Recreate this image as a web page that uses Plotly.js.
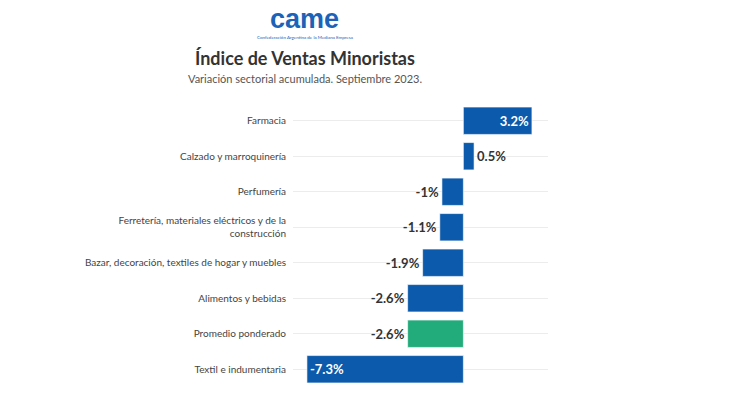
<!DOCTYPE html>
<html><head><meta charset="utf-8">
<script src="https://cdn.plot.ly/plotly-3.0.1.min.js"></script>
<style>html,body{margin:0;padding:0;background:#fff;}</style>
</head><body>
<div id="chart" style="width:730px;height:395px;"></div>
<script>
const categories = [
  "Farmacia",
  "Calzado y marroquinería",
  "Perfumería",
  "Ferretería, materiales eléctricos y de la<br>construcción",
  "Bazar, decoración, textiles de hogar y muebles",
  "Alimentos y bebidas",
  "Promedio ponderado",
  "Textil e indumentaria"
];
const values = [3.2, 0.5, -1, -1.1, -1.9, -2.6, -2.6, -7.3];
const valueLabels = ["3.2%", "0.5%", "-1%", "-1.1%", "-1.9%", "-2.6%", "-2.6%", "-7.3%"];
const highlight = "Promedio ponderado";

const colors = categories.map(c => c === highlight ? "#22ab7b" : "#0b5aab");
const positions = values.map(v => Math.abs(v) > 3 ? "inside" : "outside");

const trace = {
  type: "bar",
  orientation: "h",
  y: categories,
  x: values,
  text: valueLabels,
  textposition: positions,
  insidetextanchor: "end",
  outsidetextfont: {family: "Lato, 'Open Sans', sans-serif", size: 13, color: "#333333", weight: 700},
  insidetextfont: {family: "Lato, 'Open Sans', sans-serif", size: 13, color: "#ffffff", weight: 700},
  marker: {color: colors, line: {color: "rgba(255,255,255,0.6)", width: 1}},
  cliponaxis: false,
  hoverinfo: "none"
};

const layout = {
  width: 730, height: 395,
  margin: {l: 293, r: 182, t: 103, b: 8},
  paper_bgcolor: "#ffffff",
  plot_bgcolor: "#ffffff",
  bargap: 0.23,
  showlegend: false,
  font: {family: "Lato, 'Open Sans', sans-serif", color: "#444"},
  xaxis: {range: [-7.95, 3.95], showgrid: false, zeroline: false, showticklabels: false, fixedrange: true},
  yaxis: {autorange: "reversed", showgrid: true, gridcolor: "#ececec", gridwidth: 1,
          ticks: "", ticklabelstandoff: 6, tickfont: {size: 10, color: "#444"}, automargin: false},
  annotations: [
    {text: "<b>came</b>", xref: "paper", yref: "paper", x: 0.047, y: 1.295, xanchor: "center", yanchor: "middle",
     showarrow: false, font: {family: "Arial, Liberation Sans, sans-serif", size: 27, color: "#1c63b7"}},
    {text: "Confederación Argentina de la Mediana Empresa", xref: "paper", yref: "paper", x: 0.047, y: 1.229,
     xanchor: "center", yanchor: "middle", showarrow: false, font: {size: 4.5, color: "#1c63b7"}},
    {text: "<b>Índice de Ventas Minoristas</b>", xref: "paper", yref: "paper", x: 0.047, y: 1.157,
     xanchor: "center", yanchor: "middle", showarrow: false, font: {size: 18, color: "#333"}},
    {text: "Variación sectorial acumulada. Septiembre 2023.", xref: "paper", yref: "paper", x: 0.047, y: 1.086,
     xanchor: "center", yanchor: "middle", showarrow: false, font: {size: 11, color: "#555"}}
  ]
};

Plotly.newPlot("chart", [trace], layout, {displayModeBar: false, staticPlot: true});
</script>
</body></html>
